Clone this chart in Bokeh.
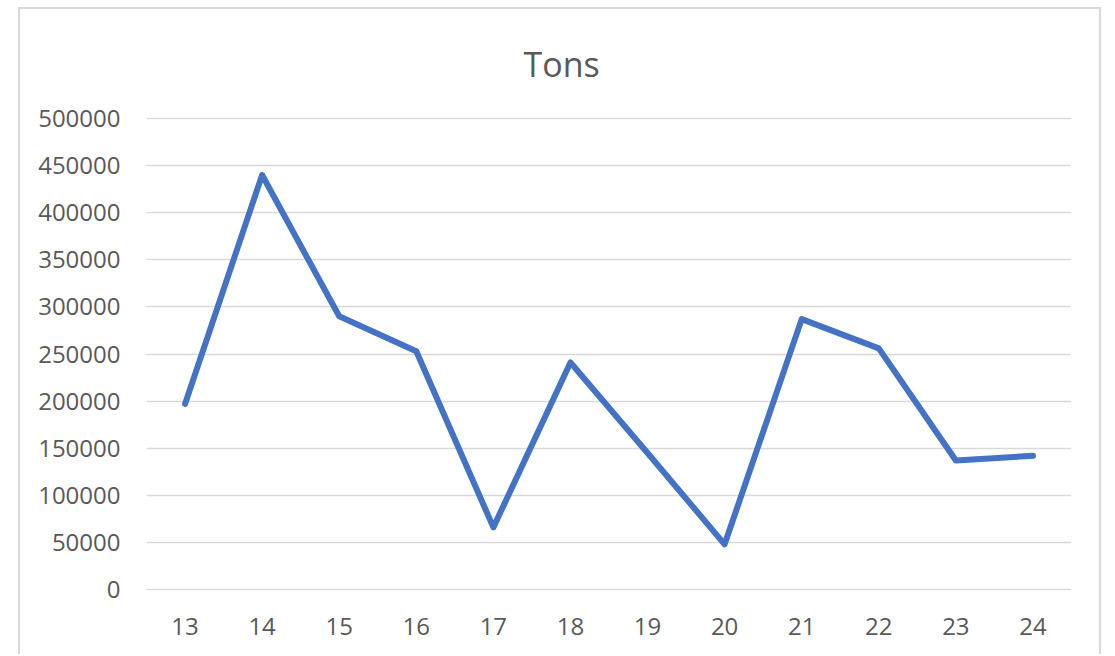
from bokeh.plotting import figure
from bokeh.models import FactorRange, Range1d, FixedTicker, NumeralTickFormatter
from bokeh.embed import file_html
from bokeh.resources import INLINE

categories = ["13", "14", "15", "16", "17", "18", "19", "20", "21", "22", "23", "24"]
tons = [197000, 440000, 290000, 253000, 66000, 241000, 145000, 48000, 287000, 256000, 137000, 142000]
y_ticks = [0, 50000, 100000, 150000, 200000, 250000, 300000, 350000, 400000, 450000, 500000]
title_text = "Tons"

FONT = "Open Sans"
GREY = "#595959"

p = figure(width=1083, height=647, output_backend="svg", toolbar_location=None,
           x_range=FactorRange(factors=categories, range_padding=0),
           y_range=Range1d(-1000, 501000),
           min_border_left=126, min_border_right=32, min_border_top=108, min_border_bottom=66,
           title=title_text)
p.styles = {"margin-left": "18px", "margin-top": "7px",
            "border-top": "2px solid #d9d9d9", "border-left": "2px solid #d9d9d9",
            "border-right": "2px solid #d9d9d9"}

p.line(categories, tons, line_color="#4472c4", line_width=6, line_join="round", line_cap="round")

p.title.align = "left"
p.title.offset = 377
p.title.vertical_align = "top"
p.title.text_font = FONT
p.title.text_font_size = "34px"
p.title.text_font_style = "normal"
p.title.text_color = GREY
p.title.standoff = 58

p.outline_line_color = None
p.background_fill_color = "white"
p.border_fill_color = "white"

p.xgrid.grid_line_color = None
p.ygrid.grid_line_color = "#d9d9d9"
p.ygrid.grid_line_width = 1.5

p.yaxis.ticker = FixedTicker(ticks=y_ticks)
p.yaxis.formatter = NumeralTickFormatter(format="0")
for ax in (p.xaxis[0], p.yaxis[0]):
    ax.axis_line_color = None
    ax.major_tick_line_color = None
    ax.minor_tick_line_color = None
    ax.major_label_text_font = FONT
    ax.major_label_text_font_size = "24px"
    ax.major_label_text_color = GREY
p.yaxis.major_label_standoff = 20
p.xaxis.major_label_standoff = 21

open("out.html", "w").write(file_html(p, INLINE))
